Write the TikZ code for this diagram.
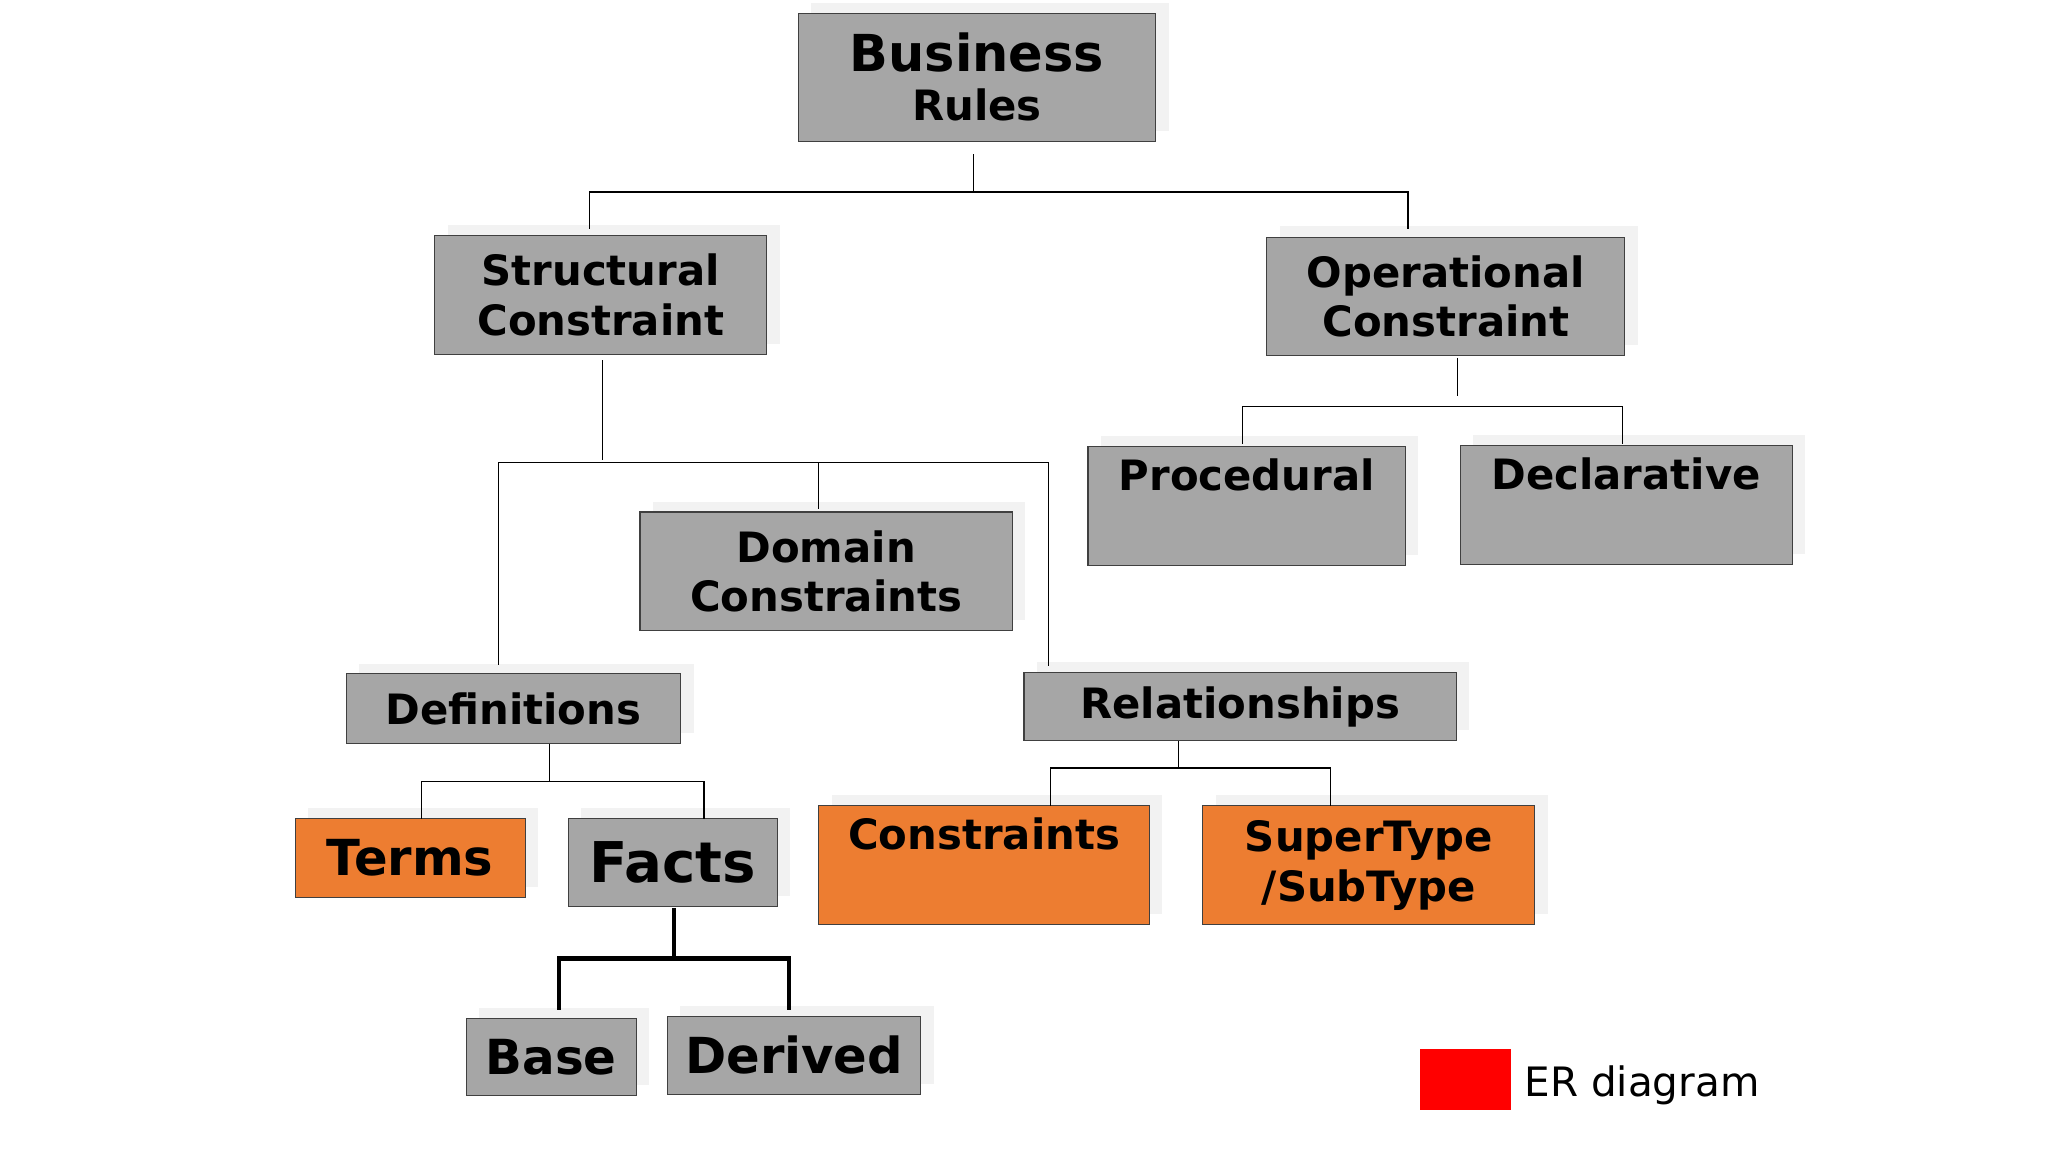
\documentclass[tikz,border=0pt]{standalone}
\usepackage{fontspec}
\setmainfont{DejaVu Sans}
\begin{document}
\begin{tikzpicture}[x=1pt,y=-1pt,
  box/.style={draw=black!75,line width=0.8pt,fill=#1,inner sep=0pt,align=center,font=\bfseries\fontsize{32}{38}\selectfont},
  box/.default=boxgray,
  shad/.style={fill=black!5,draw=none},
  conn/.style={draw=black,line width=0.8pt},
  thick conn/.style={draw=black,line width=3.5pt}]
\definecolor{boxgray}{HTML}{A6A6A6}
\definecolor{boxorange}{HTML}{ED7D31}
\useasboundingbox[fill=white] (0,0) rectangle (1568,882);
% shadows
\foreach \a/\b/\c/\d in {611/10/885/108, 333/180/587/271, 970/181/1244/272, 833/342/1076/433, 1118/341/1372/432, 490/392/775/483, 265/516/521/569, 784/515/1115/567, 226/627/402/687, 435/627/595/694, 627/617/880/708, 921/617/1175/708, 357/780/487/839, 511/778/705/838}
  \fill[shad] (\a+10,\b-8) rectangle (\c+10,\d-8);
% boxes
\node[box,minimum width=274pt,minimum height=98pt] (br) at (748,59) {\fontsize{39}{42}\selectfont Business\\[0pt]\fontsize{32}{36}\selectfont Rules};
\node[box,minimum width=254pt,minimum height=91pt] (sc) at (460,226) {Structural\\[0pt]Constraint};
\node[box,minimum width=274pt,minimum height=91pt] (oc) at (1107,227) {Operational\\[0pt]Constraint};
\node[box,minimum width=243pt,minimum height=91pt,label={[anchor=north,yshift=-6pt,font=\bfseries\fontsize{32}{38}\selectfont]north:Procedural}] (pr) at (954.5,387.5) {};
\node[box,minimum width=254pt,minimum height=91pt,label={[anchor=north,yshift=-6pt,font=\bfseries\fontsize{32}{38}\selectfont]north:Declarative}] (de) at (1245,386.5) {};
\node[box,minimum width=285pt,minimum height=91pt] (dc) at (632.5,437.5) {Domain\\[-1pt]Constraints};
\node[box,minimum width=256pt,minimum height=53pt] (df) at (393,542.5) {Definitions};
\node[box,minimum width=331pt,minimum height=52pt] (rl) at (949.5,541) {Relationships};
\node[box=boxorange,minimum width=176pt,minimum height=60pt] (tm) at (314,657) {\fontsize{38}{40}\selectfont Terms};
\node[box,minimum width=160pt,minimum height=67pt] (fc) at (515,660.5) {\fontsize{43}{45}\selectfont Facts};
\node[box=boxorange,minimum width=253pt,minimum height=91pt,label={[anchor=north,yshift=-6pt,font=\bfseries\fontsize{32}{38}\selectfont]north:Constraints}] (cs) at (753.5,662.5) {};
\node[box=boxorange,minimum width=254pt,minimum height=91pt] (st) at (1048,662.5) {SuperType\\[0pt]/SubType};
\node[box,minimum width=130pt,minimum height=59pt] (bs) at (422,809.5) {\fontsize{37}{40}\selectfont Base};
\node[box,minimum width=194pt,minimum height=60pt] (dv) at (608,808) {\fontsize{38}{40}\selectfont Derived};
% legend
\node[fill=red,minimum width=70pt,minimum height=47pt,inner sep=0pt] (lg) at (1122,826.5) {};
\node[anchor=west,inner sep=0pt,font=\fontsize{31}{34}\selectfont] (lt) at (1167,831) {ER diagram};
% connectors
\draw[conn] (745,118) -- (745,147);
\draw[conn] (451,175) -- (451,147) -- (1078,147) -- (1078,175);
\draw[conn] (461,276) -- (461,352);
\draw[conn] (382,509) -- (382,354) -- (803,354) -- (803,510);
\draw[conn] (627,354) -- (627,390);
\draw[conn] (1116,274) -- (1116,303);
\draw[conn] (951,340) -- (951,311) -- (1242,311) -- (1242,340);
\draw[conn] (421,570) -- (421,598);
\draw[conn] (323,627) -- (323,598) -- (539,598) -- (539,627);
\draw[conn] (902,567) -- (902,588);
\draw[conn] (804,617) -- (804,588) -- (1019,588) -- (1019,617);
\draw[thick conn] (516,695) -- (516,734);
\draw[thick conn] (428,773) -- (428,734) -- (604,734) -- (604,773);
\end{tikzpicture}
\end{document}
